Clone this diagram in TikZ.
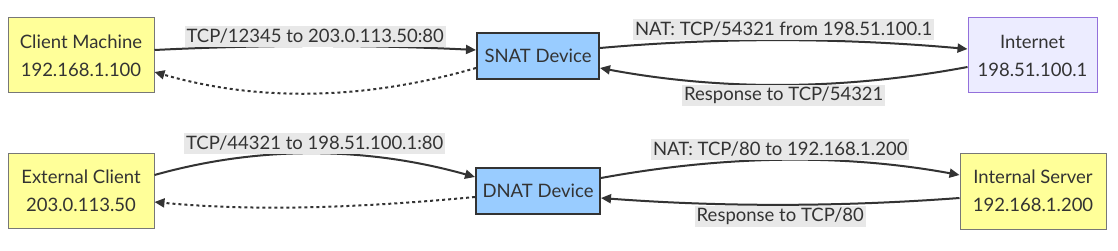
\documentclass[tikz,border=0pt]{standalone}
\usepackage{fontspec}
\setmainfont{Lato}
\usetikzlibrary{arrows.meta}
\definecolor{txt}{HTML}{333333}
\definecolor{ylw}{HTML}{FFFF99}
\definecolor{ylwb}{HTML}{777777}
\definecolor{blu}{HTML}{99CCFF}
\definecolor{lav}{HTML}{ECECFF}
\definecolor{lavb}{HTML}{9370DB}
\definecolor{lblbg}{HTML}{E8E8E8}
\tikzset{
  box/.style={draw, text=txt, align=center, inner sep=0pt,
    font=\fontsize{18.5}{28}\selectfont},
  hostbox/.style={box, fill=ylw, draw=ylwb, line width=1pt},
  natbox/.style={box, fill=blu, draw=txt, line width=2pt},
  netbox/.style={box, fill=lav, draw=lavb, line width=1pt},
  conn/.style={draw=txt, line width=2pt, -{Triangle[length=10pt,width=9pt]}},
  ret/.style={conn, dash pattern=on 3pt off 3pt},
  lbl/.style={fill=lblbg, text=txt, inner xsep=2pt, inner ysep=0pt,
    minimum height=21pt, font=\fontsize{18.5}{20}\selectfont},
}
\begin{document}
\begin{tikzpicture}[x=1pt, y=-1pt]
\useasboundingbox (0,0) rectangle (1118,251);
% nodes
\node[hostbox, minimum width=146pt, minimum height=75pt] (cm) at (81,55.5) {Client Machine\\192.168.1.100};
\node[natbox, minimum width=122pt, minimum height=46pt] (snat) at (538,56) {SNAT Device};
\node[netbox, minimum width=129pt, minimum height=75pt] (inet) at (1032.5,55.5) {Internet\\198.51.100.1};
\node[hostbox, minimum width=146pt, minimum height=75pt] (ext) at (81,190.5) {External Client\\203.0.113.50};
\node[natbox, minimum width=124pt, minimum height=46pt] (dnat) at (538,191) {DNAT Device};
\node[hostbox, minimum width=146pt, minimum height=76pt] (srv) at (1033,191) {Internal Server\\192.168.1.200};
% SNAT row
\draw[conn] ([yshift=5.5pt]cm.east) .. controls +(107,-5.3) and +(-107,-5.3) .. ([yshift=6pt]snat.west)
  node[lbl, pos=0.5, yshift=10pt] (l1) {TCP/12345 to 203.0.113.50:80};
\draw[ret] ([yshift=-12pt]snat.west) .. controls +(-107,31) and +(107,31) .. ([yshift=-16.5pt]cm.east);
\draw[conn] ([yshift=8pt]snat.east) .. controls +(123,-11) and +(-123,-11) .. ([yshift=6.5pt]inet.west)
  node[lbl, pos=0.5, yshift=11pt] (l2) {NAT: TCP/54321 from 198.51.100.1};
\draw[conn] ([yshift=-11.5pt]inet.west) .. controls +(-123,23) and +(123,23) .. ([yshift=-12pt]snat.east)
  node[lbl, pos=0.5, yshift=-11pt] (l3) {Response to TCP/54321};
% DNAT row
\draw[conn] ([yshift=15.5pt]ext.east) .. controls +(107,-30) and +(-107,-30) .. ([yshift=14pt]dnat.west)
  node[lbl, pos=0.5, yshift=10.5pt] (l4) {TCP/44321 to 198.51.100.1:80};
\draw[ret] ([yshift=-6pt]dnat.west) .. controls +(-107,10) and +(107,10) .. ([yshift=-11.5pt]ext.east);
\draw[conn] ([yshift=13pt]dnat.east) .. controls +(120,-22) and +(-120,-22) .. ([yshift=16pt]srv.west)
  node[lbl, pos=0.5, yshift=11pt] (l5) {NAT: TCP/80 to 192.168.1.200};
\draw[conn] ([yshift=-7pt]srv.west) .. controls +(-120,9) and +(120,9) .. ([yshift=-7pt]dnat.east)
  node[lbl, pos=0.5, yshift=-12pt] (l6) {Response to TCP/80};
\end{tikzpicture}
\end{document}
